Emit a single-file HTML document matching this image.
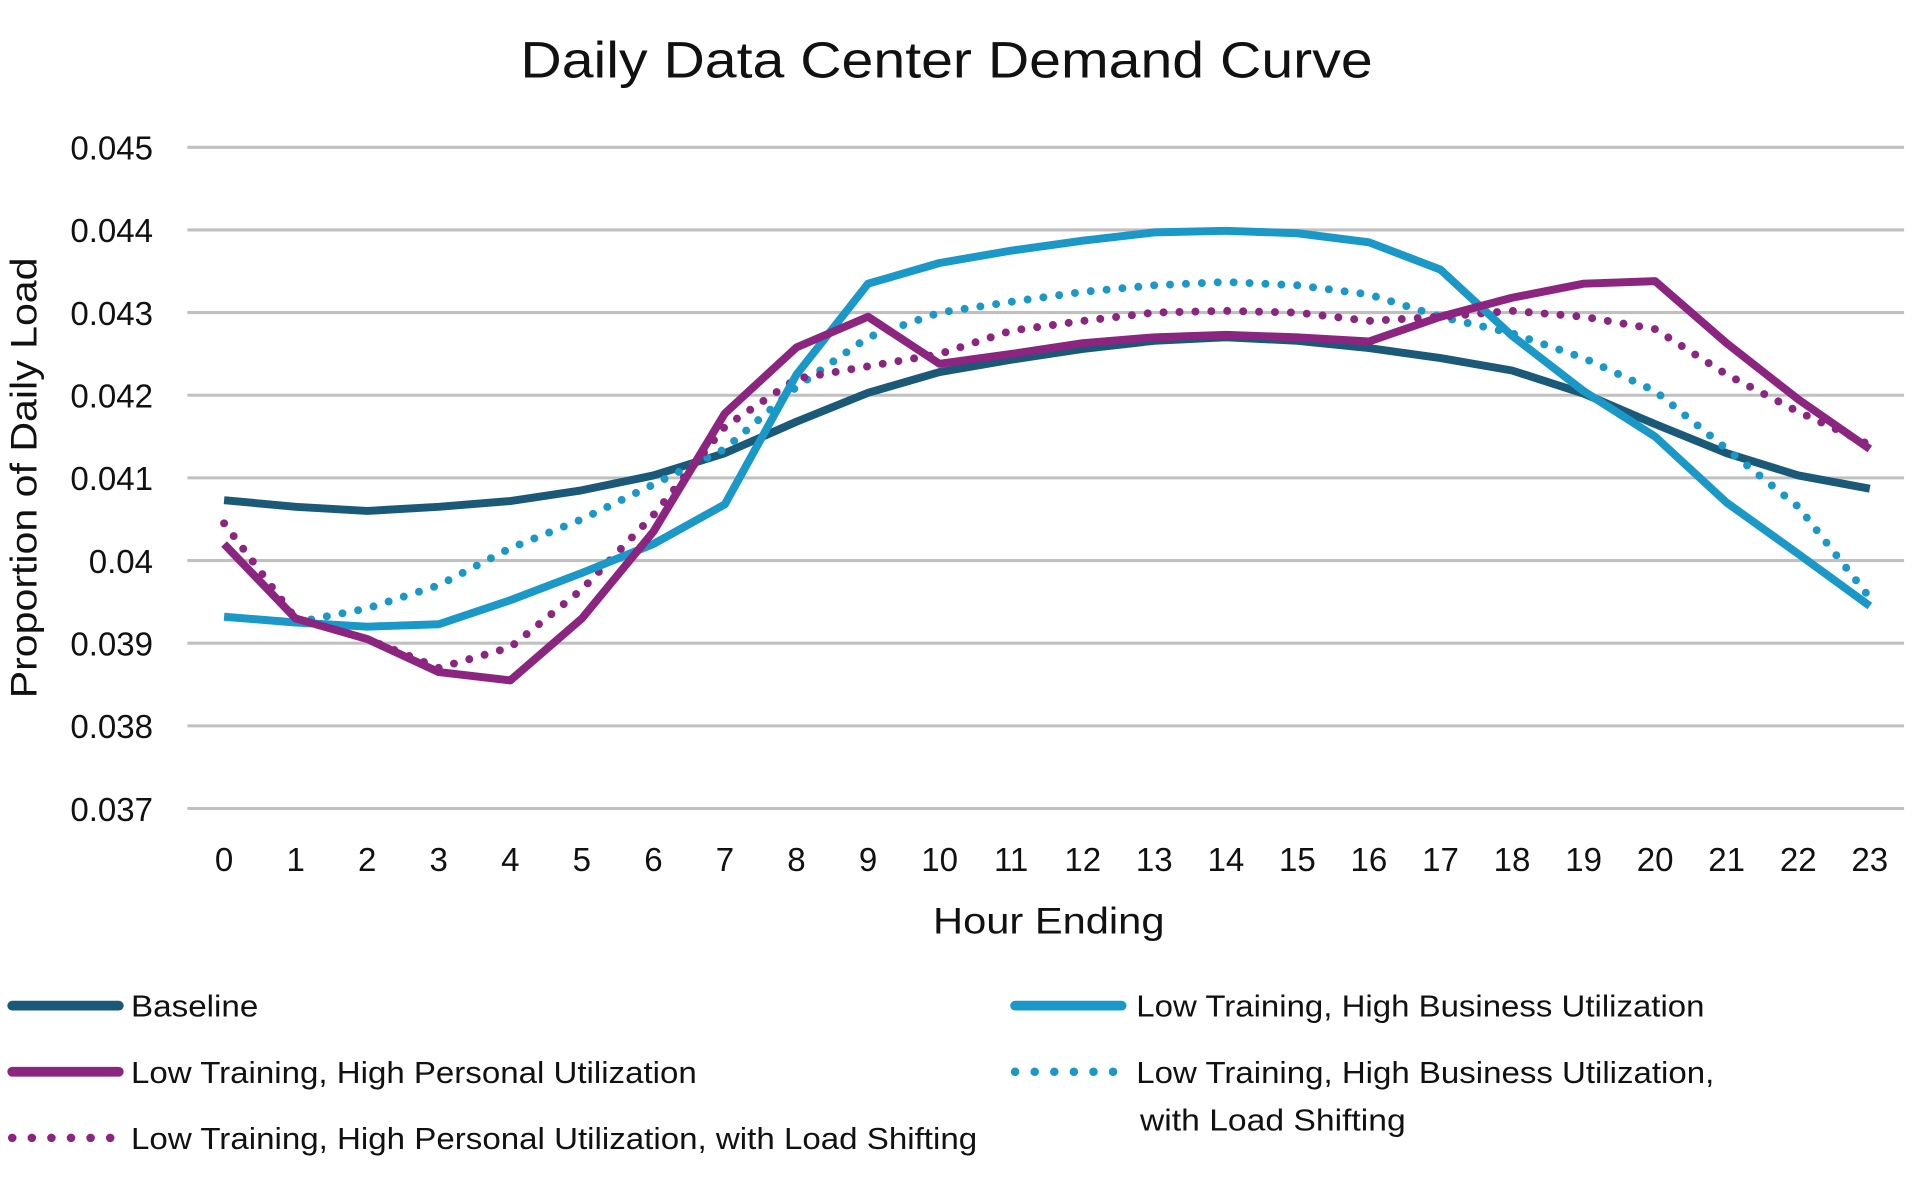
<!DOCTYPE html>
<html><head><meta charset="utf-8"><style>
html,body{margin:0;padding:0;background:#fff;}
svg{display:block;}
text{font-family:"Liberation Sans",sans-serif;fill:#111;}
</style></head><body>
<svg id="s" width="1920" height="1186" viewBox="0 0 1568 968" xmlns="http://www.w3.org/2000/svg">
<rect width="1568" height="968" fill="#fff"/>
<text x="425" y="63" font-size="42" textLength="696" lengthAdjust="spacingAndGlyphs">Daily Data Center Demand Curve</text>
<g id="grid" stroke="#c0c0c0" stroke-width="2.5"></g>
<g id="yl" font-size="27" text-anchor="end"></g>
<g id="xl" font-size="27" text-anchor="middle"></g>
<text transform="translate(30,570) rotate(-90)" font-size="30" textLength="360" lengthAdjust="spacingAndGlyphs">Proportion of Daily Load</text>
<text x="762" y="762" font-size="30" textLength="189" lengthAdjust="spacingAndGlyphs">Hour Ending</text>
<g id="lines" fill="none" stroke-linejoin="round"></g>
<g font-size="25">
<line x1="10" y1="821" x2="97" y2="821" stroke="#1a5a78" stroke-width="8" stroke-linecap="round"/>
<text x="107" y="830" textLength="104" lengthAdjust="spacingAndGlyphs">Baseline</text>
<line x1="10" y1="875" x2="97" y2="875" stroke="#8b2580" stroke-width="8" stroke-linecap="round"/>
<text x="107" y="884" textLength="462" lengthAdjust="spacingAndGlyphs">Low Training, High Personal Utilization</text>
<line x1="10" y1="929" x2="97" y2="929" stroke="#8b2580" stroke-width="7" stroke-linecap="round" stroke-dasharray="0 16"/>
<text x="107" y="938" textLength="691" lengthAdjust="spacingAndGlyphs">Low Training, High Personal Utilization, with Load Shifting</text>
<line x1="829" y1="821" x2="916" y2="821" stroke="#1a98c8" stroke-width="8" stroke-linecap="round"/>
<text x="928" y="830" textLength="464" lengthAdjust="spacingAndGlyphs">Low Training, High Business Utilization</text>
<line x1="829" y1="875" x2="916" y2="875" stroke="#1a98c8" stroke-width="7" stroke-linecap="round" stroke-dasharray="0 16"/>
<text x="928" y="884" textLength="472" lengthAdjust="spacingAndGlyphs">Low Training, High Business Utilization,</text>
<text x="931" y="923" textLength="217" lengthAdjust="spacingAndGlyphs">with Load Shifting</text>
</g>
</svg>
<script>
var NS="http://www.w3.org/2000/svg";
function X(h){return 183+h*1344/23;}
function Y(v){return 120+(45-v)*67.5;}
var g=document.getElementById('grid'),yl=document.getElementById('yl'),xl=document.getElementById('xl');
var labs=["0.045","0.044","0.043","0.042","0.041","0.04","0.039","0.038","0.037"];
for(var i=0;i<9;i++){var y=120+i*67.5;var l=document.createElementNS(NS,'line');
l.setAttribute('x1',153);l.setAttribute('x2',1555);l.setAttribute('y1',y);l.setAttribute('y2',y);g.appendChild(l);
var t=document.createElementNS(NS,'text');t.setAttribute('x',125);t.setAttribute('y',y+10);t.textContent=labs[i];yl.appendChild(t);}
for(var h=0;h<24;h++){var t=document.createElementNS(NS,'text');t.setAttribute('x',X(h));t.setAttribute('y',711);t.textContent=h;xl.appendChild(t);}
var S=[
{c:"#1a5a78",d:0,v:[40.73,40.65,40.6,40.65,40.72,40.85,41.03,41.3,41.68,42.03,42.28,42.43,42.56,42.66,42.7,42.66,42.57,42.45,42.3,42.02,41.65,41.3,41.03,40.87]},
{c:"#1a98c8",d:1,v:[null,39.25,39.42,39.7,40.15,40.5,40.92,41.35,42.1,42.7,43.0,43.13,43.25,43.33,43.37,43.33,43.22,42.95,42.75,42.45,42.05,41.35,40.65,39.55]},
{c:"#8b2580",d:1,v:[40.45,39.3,39.05,38.7,38.95,39.65,40.55,41.62,42.2,42.35,42.5,42.78,42.9,43.0,43.02,43.0,42.9,42.95,43.02,42.95,42.8,42.25,41.8,41.4]},
{c:"#1a98c8",d:0,v:[39.32,39.25,39.2,39.23,39.52,39.85,40.2,40.68,42.25,43.35,43.6,43.75,43.87,43.97,43.99,43.96,43.85,43.52,42.72,42.05,41.5,40.7,40.08,39.45]},
{c:"#8b2580",d:0,v:[40.2,39.3,39.05,38.65,38.55,39.3,40.35,41.78,42.58,42.95,42.38,42.5,42.63,42.7,42.73,42.7,42.65,42.95,43.18,43.35,43.38,42.63,41.95,41.35]}
];
var L=document.getElementById('lines');
S.forEach(function(s){var d="";s.v.forEach(function(v,h){if(v==null)return;d+=(d?"L":"M")+X(h).toFixed(1)+","+Y(v).toFixed(1);});
var p=document.createElementNS(NS,'path');p.setAttribute('d',d);p.setAttribute('stroke',s.c);
p.setAttribute('stroke-width',s.d?6.5:6.5);if(s.d){p.setAttribute('stroke-dasharray','0 13');p.setAttribute('stroke-linecap','round');}
L.appendChild(p);});
</script>
</body></html>
